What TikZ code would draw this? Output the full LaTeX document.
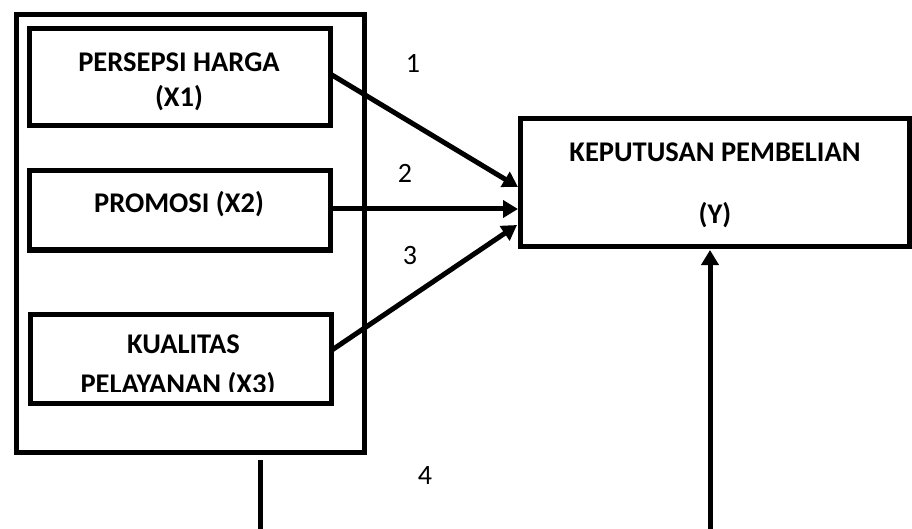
\documentclass[tikz,border=0pt]{standalone}
\usepackage{fontspec}
\setmainfont{Carlito}
\usetikzlibrary{arrows.meta}
\begin{document}
\begin{tikzpicture}[x=1pt,y=-1pt,
  frame/.style={draw=black,line width=5pt,rectangle,inner sep=0pt,outer sep=0pt,fill=none},
  lbl/.style={font=\fontsize{28.5}{34}\selectfont\bfseries,anchor=base,inner sep=0pt},
  num/.style={font=\fontsize{28}{34}\selectfont,anchor=base,inner sep=0pt},
  conn/.style={line width=5pt,-{Triangle[length=15pt,width=17pt]}},
  plain/.style={line width=5pt}]
\useasboundingbox (0,0) rectangle (912,529);
% boxes
\node[frame,minimum width=348pt,minimum height=437pt] (outer) at (190,233.5) {};
\node[frame,minimum width=301pt,minimum height=97pt] (x1) at (179.5,77.5) {};
\node[frame,minimum width=301pt,minimum height=79pt] (x2) at (179.5,210.5) {};
\node[frame,minimum width=301pt,minimum height=89pt] (x3) at (180.5,358.5) {};
\node[frame,minimum width=389pt,minimum height=128pt] (y) at (714.5,183) {};
% texts
\node[lbl] (t1a) at (179,72) {PERSEPSI HARGA};
\node[lbl] (t1b) at (179,107) {(X1)};
\node[lbl] (t2) at (179,213) {PROMOSI (X2)};
\begin{scope}
\clip (33,317) rectangle (328,391);
\node[lbl] (t3a) at (183.5,353) {KUALITAS};
\node[lbl] (t3b) at (178,393) {PELAYANAN (X3)};
\end{scope}
\node[lbl] (tya) at (715,162) {KEPUTUSAN PEMBELIAN};
\node[lbl] (tyb) at (715,224) {(Y)};
% numbers
\node[num] (n1) at (413,73) {1};
\node[num] (n2) at (405,183) {2};
\node[num] (n3) at (410,264) {3};
\node[num] (n4) at (425,484) {4};
% connectors
\coordinate (s1) at (332,75);
\coordinate (e1) at (518,187);
\coordinate (s2) at (332,209);
\coordinate (e2) at (518,209);
\coordinate (s3) at (332,350);
\coordinate (e3) at (517,225);
\draw[conn] (s1) -- (e1);
\draw[conn] (s2) -- (e2);
\draw[conn] (s3) -- (e3);
\coordinate (b1) at (260,460);
\coordinate (b1e) at (260,529);
\coordinate (b2) at (710,529);
\coordinate (b2e) at (710,250);
\draw[plain] (b1) -- (b1e);
\draw[conn] (b2) -- (b2e);
\end{tikzpicture}
\end{document}
